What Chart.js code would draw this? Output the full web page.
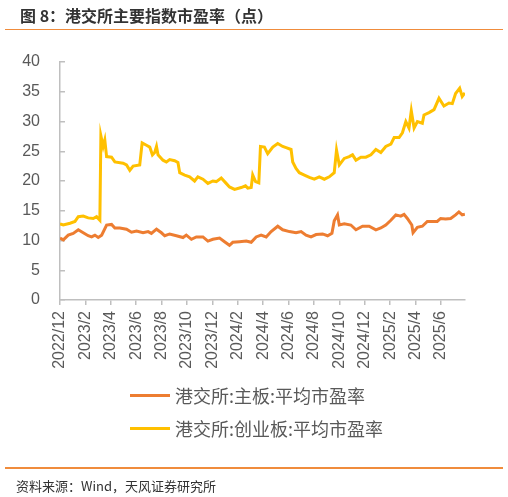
<!DOCTYPE html>
<html>
<head>
<meta charset="utf-8">
<script src="https://cdn.jsdelivr.net/npm/chart.js@4.4.1/dist/chart.umd.min.js"></script>
<style>
  body { margin: 0; background: #ffffff; }
  #wrap { position: relative; width: 508px; height: 497px; overflow: hidden; font-family: "Noto Sans CJK SC", "Liberation Sans", sans-serif; }
  #chart { position: absolute; left: 0; top: 0; }
  .rule { position: absolute; left: 5px; width: 498px; height: 1.5px; background: #F08C3C; }
  .title { position: absolute; left: 20px; top: 3px; font-size: 16px; font-weight: bold; color: #333333; white-space: nowrap; }
  .legend-line { position: absolute; left: 130px; width: 40px; height: 3px; }
  .legend-text { position: absolute; left: 175px; font-size: 18px; color: #595959; white-space: nowrap; line-height: 20px; }
  .source { position: absolute; left: 16px; top: 477px; font-size: 13px; color: #333333; white-space: nowrap; line-height: 18px; }
</style>
</head>
<body>
<div id="wrap">
  <canvas id="chart" width="508" height="497"></canvas>
  <div class="title">图 8：港交所主要指数市盈率（点）</div>
  <div class="rule" style="top:28.5px"></div>
  <div class="legend-line" style="top:393.5px;background:#ED7D31"></div>
  <div class="legend-text" style="top:385px">港交所:主板:平均市盈率</div>
  <div class="legend-line" style="top:426.5px;background:#FFC000"></div>
  <div class="legend-text" style="top:418px">港交所:创业板:平均市盈率</div>
  <div class="rule" style="top:467px"></div>
  <div class="source">资料来源：Wind，天风证券研究所</div>
</div>
<script>
// x = months since 2022/12 (fractional)
const tickLabels = ['2022/12', '2023/2', '2023/4', '2023/6', '2023/8', '2023/10', '2023/12', '2024/2',
                    '2024/4', '2024/6', '2024/8', '2024/10', '2024/12', '2025/2', '2025/4', '2025/6'];

const mainMonths = [0, 0.26, 0.65, 1.04, 1.44, 1.83, 2.22, 2.49, 2.75, 3.01, 3.28, 3.67, 4.06, 4.32, 4.71,
                    5.24, 5.63, 6.03, 6.54, 6.94, 7.20, 7.60, 7.99, 8.25, 8.64, 9.17, 9.69, 9.95, 10.35,
                    10.74, 11.26, 11.65, 12.04, 12.57, 12.96, 13.35, 13.61, 14.14, 14.67, 15.06, 15.45,
                    15.84, 16.24, 16.63, 17.15, 17.54, 18.07, 18.59, 18.99, 19.38, 19.77, 20.17, 20.68,
                    21.08, 21.42, 21.60, 21.86, 22.00, 22.39, 22.91, 23.31, 23.83, 24.35, 24.88, 25.27,
                    25.66, 26.06, 26.45, 26.84, 27.10, 27.36, 27.71, 27.81, 28.15, 28.54, 28.93, 29.32,
                    29.71, 29.98, 30.37, 30.77, 31.16, 31.42, 31.68, 31.89];
const mainPE = [10.4, 10.1, 10.9, 11.2, 11.8, 11.3, 10.8, 10.6, 10.9, 10.5, 10.9, 12.6, 12.7, 12.1, 12.1,
                11.9, 11.4, 11.6, 11.3, 11.5, 11.2, 11.9, 11.3, 10.8, 11.1, 10.8, 10.5, 10.9, 10.2,
                10.6, 10.6, 9.9, 10.2, 10.4, 9.8, 9.2, 9.7, 9.8, 9.9, 9.7, 10.6,
                10.9, 10.6, 11.5, 12.4, 11.8, 11.5, 11.3, 11.5, 10.9, 10.6, 11.0, 11.1,
                10.8, 11.2, 13.3, 14.3, 12.6, 12.8, 12.6, 11.8, 12.4, 12.4, 11.8, 12.1,
                12.6, 13.4, 14.3, 14.1, 14.4, 13.7, 12.6, 11.3, 12.2, 12.4, 13.2, 13.2,
                13.2, 13.7, 13.6, 13.7, 14.3, 14.8, 14.3, 14.4];

const gemMonths = [0, 0.26, 0.79, 1.18, 1.44, 1.83, 2.22, 2.62, 2.88, 3.14, 3.22, 3.40, 3.53, 3.67, 4.06,
                   4.32, 4.97, 5.24, 5.50, 5.76, 6.28, 6.47, 6.81, 7.07, 7.28, 7.46, 7.60, 7.72, 8.11,
                   8.38, 8.64, 9.03, 9.29, 9.43, 9.82, 10.21, 10.60, 10.86, 11.26, 11.65, 12.04, 12.31,
                   12.70, 13.09, 13.35, 13.75, 14.27, 14.61, 14.79, 15.06, 15.18, 15.40, 15.66, 15.79,
                   16.10, 16.36, 16.76, 17.15, 17.54, 17.81, 18.20, 18.33, 18.59, 18.85, 19.25, 19.64,
                   20.03, 20.42, 20.82, 21.21, 21.60, 21.78, 22.00, 22.39, 22.78, 23.04, 23.31, 23.70,
                   24.09, 24.49, 24.88, 25.27, 25.66, 26.06, 26.32, 26.71, 26.97, 27.24, 27.49, 27.67,
                   27.89, 28.15, 28.54, 28.67, 29.07, 29.46, 29.85, 30.24, 30.64, 30.90, 31.16, 31.48,
                   31.68, 31.89];
const gemPE = [12.8, 12.6, 12.9, 13.2, 14.0, 14.1, 13.8, 13.7, 14.0, 13.4, 27.6, 25.8, 26.9, 24.1, 24.0,
               23.2, 23.0, 22.7, 21.8, 22.5, 22.7, 26.4, 26.0, 25.7, 24.4, 24.8, 25.8, 24.4, 23.5,
               23.2, 23.6, 23.4, 23.1, 21.4, 21.0, 20.7, 20.0, 20.7, 20.3, 19.6, 20.0, 19.9,
               20.5, 19.6, 19.0, 18.6, 18.9, 19.2, 18.8, 18.9, 21.0, 19.9, 19.7, 25.8,
               25.7, 24.6, 25.7, 26.3, 25.8, 25.6, 25.3, 23.2, 22.1, 21.4, 21.0, 20.6,
               20.3, 20.7, 20.3, 20.7, 21.4, 25.2, 22.7, 23.8, 24.1, 24.4, 23.5, 24.0,
               24.0, 24.4, 25.3, 24.8, 25.8, 26.2, 27.3, 27.3, 28.1, 30.0, 28.9, 31.8,
               28.9, 30.0, 29.7, 31.1, 31.5, 32.0, 33.9, 32.6, 33.1, 33.0, 34.7, 35.6,
               34.2, 34.8];

const toPoints = (xs, ys) => xs.map((x, i) => ({ x: x, y: ys[i] }));

const axisGray = '#BFBFBF';
const labelGray = '#595959';

new Chart(document.getElementById('chart'), {
    type: 'line',
    data: {
        datasets: [
            {
                label: '港交所:主板:平均市盈率',
                data: toPoints(mainMonths, mainPE),
                borderColor: '#ED7D31',
                borderWidth: 3,
                pointRadius: 0,
                tension: 0,
            },
            {
                label: '港交所:创业板:平均市盈率',
                data: toPoints(gemMonths, gemPE),
                borderColor: '#FFC000',
                borderWidth: 3,
                pointRadius: 0,
                tension: 0,
            }
        ]
    },
    options: {
        responsive: false,
        animation: false,
        layout: { padding: { left: 0, top: 62, right: 43, bottom: 117 } },
        plugins: {
            legend: { display: false },
            tooltip: { enabled: false },
        },
        scales: {
            x: {
                type: 'linear',
                min: 0,
                max: 31.9,
                afterBuildTicks: scale => {
                    scale.ticks = tickLabels.map((_, i) => ({ value: i * 2 }));
                },
                afterFit: scale => { scale.height = 80; },
                border: { color: axisGray, width: 1.5 },
                grid: { drawOnChartArea: false, drawTicks: true, tickLength: 5, color: axisGray, lineWidth: 1.5 },
                ticks: {
                    autoSkip: false,
                    minRotation: 90,
                    maxRotation: 90,
                    padding: 6,
                    color: labelGray,
                    font: { family: 'Liberation Sans', size: 16 },
                    callback: value => tickLabels[Math.round(value / 2)],
                },
            },
            y: {
                min: 0,
                max: 40,
                afterFit: scale => { scale.width = 60; },
                border: { color: axisGray, width: 1.5 },
                grid: { drawOnChartArea: false, drawTicks: true, tickLength: -5, color: axisGray, lineWidth: 1.5 },
                ticks: {
                    stepSize: 5,
                    padding: 25,
                    color: labelGray,
                    font: { family: 'Liberation Sans', size: 16 },
                },
            },
        },
    }
});
</script>
</body>
</html>
